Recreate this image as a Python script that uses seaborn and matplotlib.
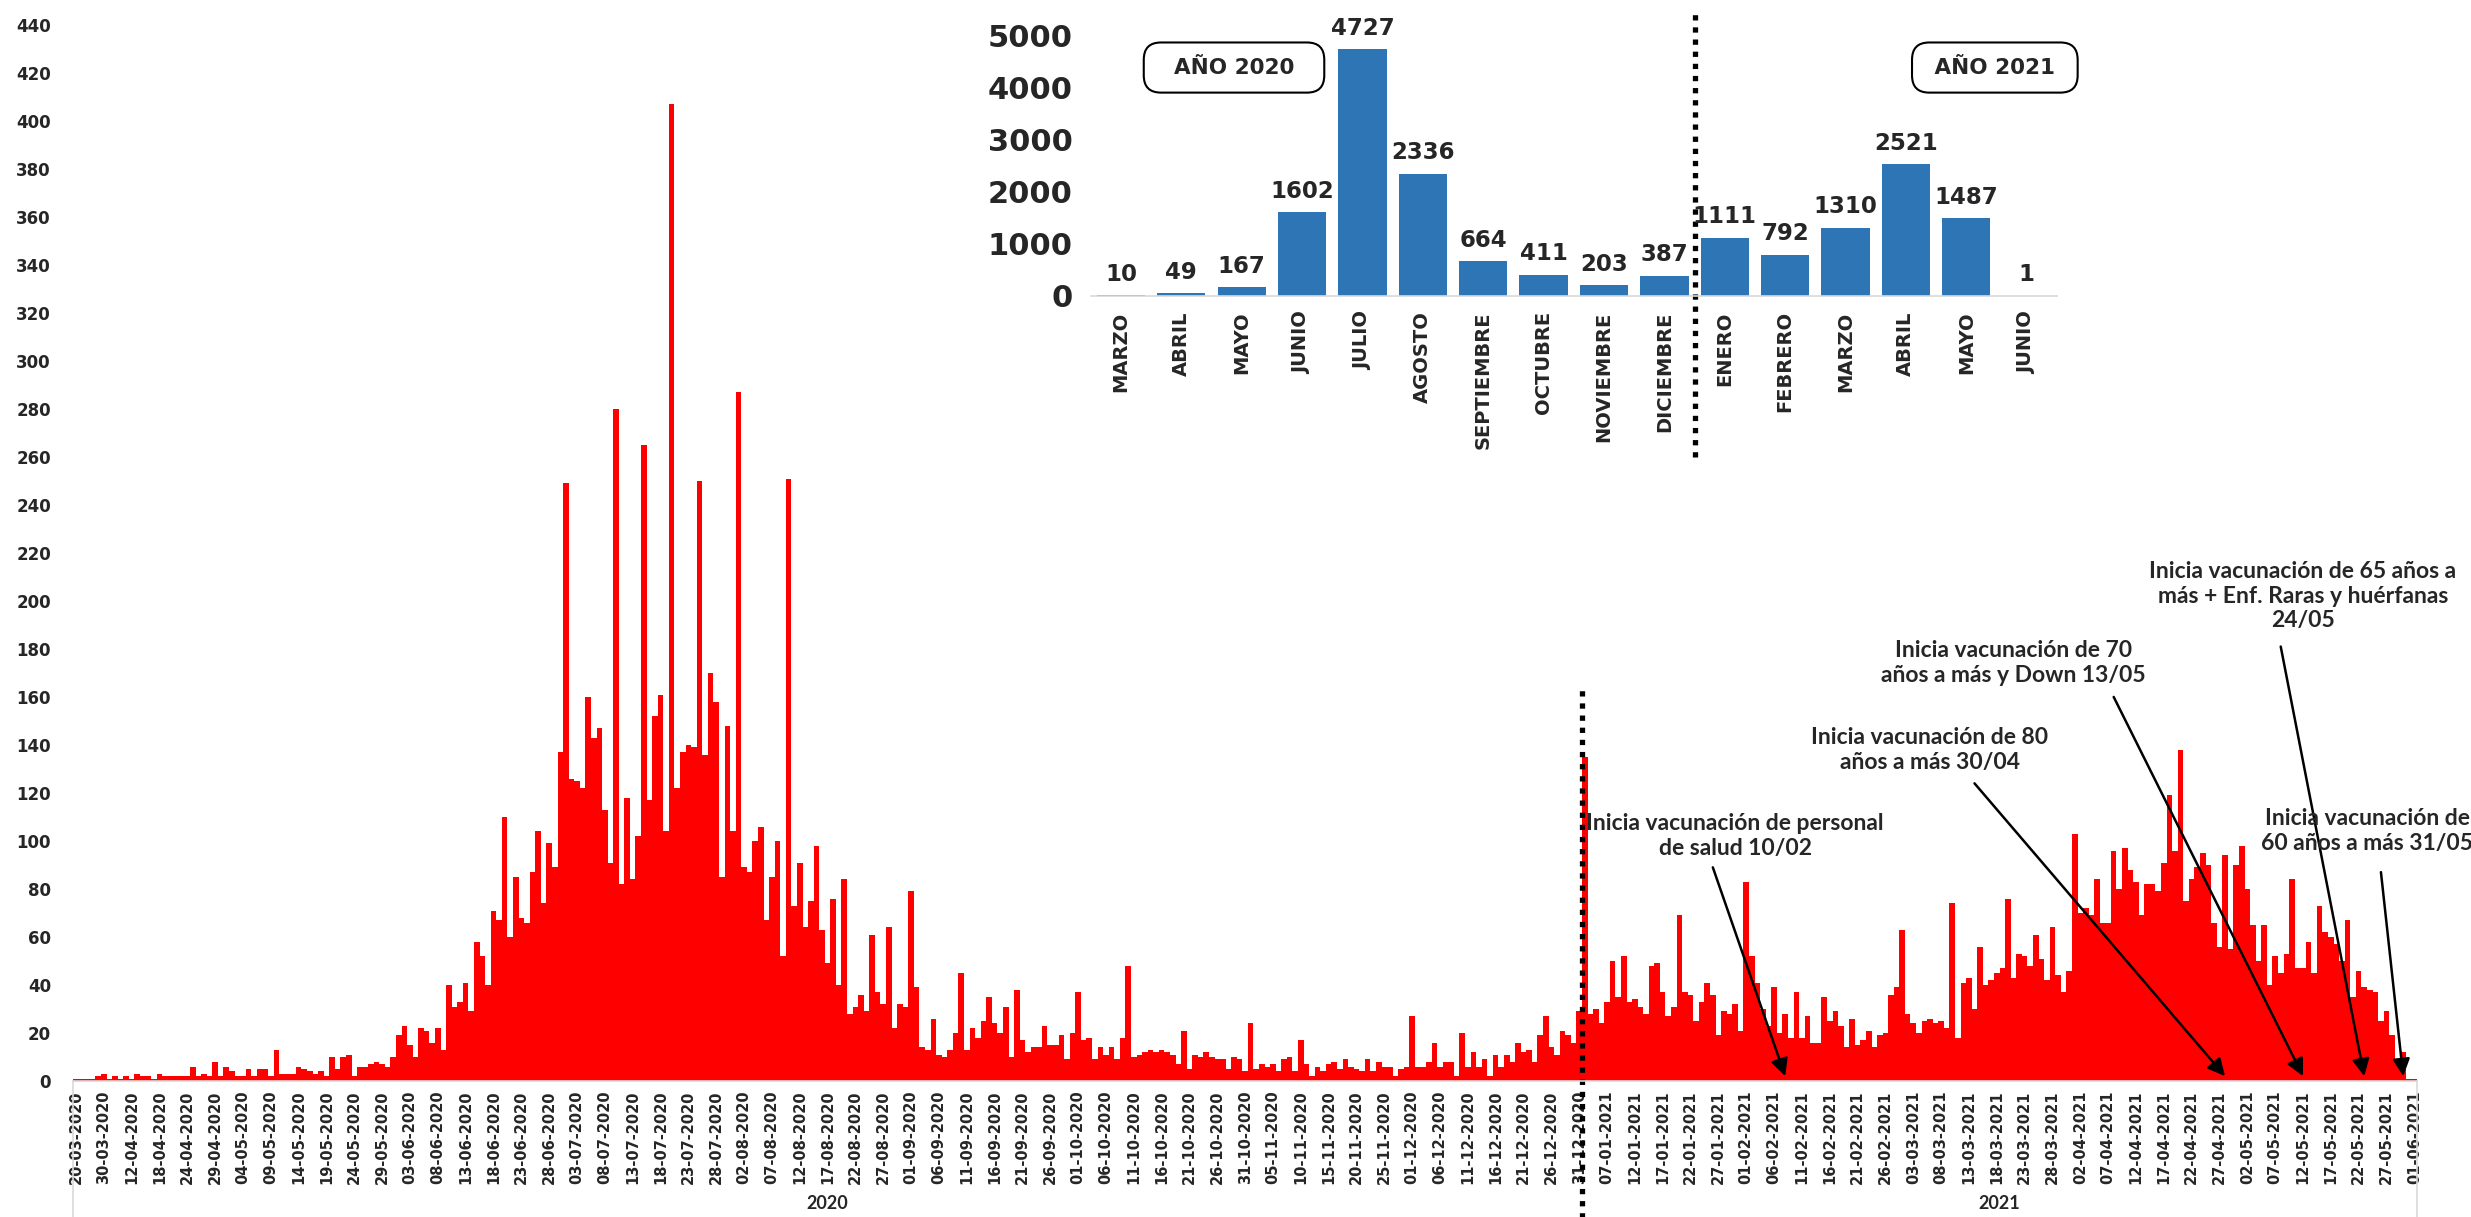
import matplotlib
matplotlib.use('Agg')
import matplotlib.pyplot as plt
from matplotlib import font_manager
from matplotlib.transforms import blended_transform_factory
import numpy as np
import pandas as pd
import seaborn as sns

sns.set_style('white')
plt.rcParams['font.family'] = ['DejaVu Sans']

# casos diarios por mes
mar20 = [1, 1, 1, 1, 2, 3, 1]
abr20 = [2, 1, 2, 1, 3, 2, 2, 1, 3, 2, 2, 2, 2, 2, 6, 2, 3, 2, 8, 2]
may20 = [6, 4, 2, 2, 5, 2, 5, 5, 2, 13, 3, 3, 3, 6, 5, 4, 3, 4, 2, 10, 5, 10, 11, 2, 6, 6, 7, 8, 7, 6, 10]
jun20 = [19, 23, 15, 10, 22, 21, 16, 22, 13, 40, 31, 33, 41, 29, 58, 52, 40, 71, 67, 110, 60, 85, 68, 66, 87,
         104, 74, 99, 89, 137]
jul20 = [249, 126, 125, 122, 160, 143, 147, 113, 91, 280, 82, 118, 84, 102, 265, 117, 152, 161, 104, 407, 122,
         137, 140, 139, 250, 136, 170, 158, 85, 148, 104]
ago20 = [287, 89, 87, 100, 106, 67, 85, 100, 52, 251, 73, 91, 64, 75, 98, 63, 49, 76, 40, 84, 28, 31, 36, 29, 61,
         37, 32, 64, 22, 32, 31]
sep20 = [79, 39, 14, 13, 26, 11, 10, 13, 20, 45, 13, 22, 18, 25, 35, 24, 20, 31, 10, 38, 17, 12, 14, 14, 23, 15,
         15, 19, 9, 20]
oct20 = [37, 17, 18, 9, 14, 11, 14, 9, 18, 48, 10, 11, 12, 13, 12, 13, 12, 11, 7, 21, 5, 11, 10, 12, 10, 9, 9, 5,
         10, 9, 4]
nov20 = [24, 5, 7, 6, 7, 4, 9, 10, 4, 17, 7, 2, 6, 4, 7, 8, 5, 9, 6, 5, 4, 9, 4, 8, 6, 6, 2, 5, 6]
dic20 = [27, 6, 6, 8, 16, 6, 8, 8, 2, 20, 6, 12, 6, 9, 2, 11, 6, 11, 8, 16, 12, 13, 8, 19, 27, 14, 11, 21, 19, 16, 29]
ene21 = [135, 28, 30, 24, 33, 50, 35, 52, 33, 34, 31, 28, 48, 49, 37, 27, 31, 69, 37, 36, 25, 33, 41, 36, 19, 29,
         28, 32, 21]
feb21 = [83, 52, 41, 30, 23, 39, 20, 28, 18, 37, 18, 27, 16, 16, 35, 25, 29, 23, 14, 26, 15, 17, 21, 14, 19, 20,
         36, 39]
mar21 = [63, 28, 24, 20, 25, 26, 24, 25, 22, 74, 18, 41, 43, 30, 56, 40, 42, 45, 47, 76, 43, 53, 52, 48, 61, 51,
         42, 64, 44, 37, 46]
abr21 = [103, 70, 72, 69, 84, 66, 66, 96, 80, 97, 88, 83, 69, 82, 82, 79, 91, 119, 96, 138, 75, 84, 89, 95, 90, 66,
         56, 94, 55, 90]
may21 = [98, 80, 65, 50, 65, 40, 52, 45, 53, 84, 47, 47, 58, 45, 73, 62, 60, 57, 50, 67, 35, 46, 39, 38, 37, 25,
         29, 19, 9, 12, 1]
jun21 = [1]

fechas = ['20-03-2020', '30-03-2020', '12-04-2020', '18-04-2020', '24-04-2020', '29-04-2020', '04-05-2020',
          '09-05-2020', '14-05-2020', '19-05-2020', '24-05-2020', '29-05-2020', '03-06-2020', '08-06-2020',
          '13-06-2020', '18-06-2020', '23-06-2020', '28-06-2020', '03-07-2020', '08-07-2020', '13-07-2020',
          '18-07-2020', '23-07-2020', '28-07-2020', '02-08-2020', '07-08-2020', '12-08-2020', '17-08-2020',
          '22-08-2020', '27-08-2020', '01-09-2020', '06-09-2020', '11-09-2020', '16-09-2020', '21-09-2020',
          '26-09-2020', '01-10-2020', '06-10-2020', '11-10-2020', '16-10-2020', '21-10-2020', '26-10-2020',
          '31-10-2020', '05-11-2020', '10-11-2020', '15-11-2020', '20-11-2020', '25-11-2020', '01-12-2020',
          '06-12-2020', '11-12-2020', '16-12-2020', '21-12-2020', '26-12-2020', '31-12-2020', '07-01-2021',
          '12-01-2021', '17-01-2021', '22-01-2021', '27-01-2021', '01-02-2021', '06-02-2021', '11-02-2021',
          '16-02-2021', '21-02-2021', '26-02-2021', '03-03-2021', '08-03-2021', '13-03-2021', '18-03-2021',
          '23-03-2021', '28-03-2021', '02-04-2021', '07-04-2021', '12-04-2021', '17-04-2021', '22-04-2021',
          '27-04-2021', '02-05-2021', '07-05-2021', '12-05-2021', '17-05-2021', '22-05-2021', '27-05-2021',
          '01-06-2021']

# totales mensuales (grafico insertado)
meses = ['MARZO', 'ABRIL', 'MAYO', 'JUNIO', 'JULIO', 'AGOSTO', 'SEPTIEMBRE', 'OCTUBRE', 'NOVIEMBRE',
         'DICIEMBRE', 'ENERO', 'FEBRERO', 'MARZO', 'ABRIL', 'MAYO', 'JUNIO']
totales = [10, 49, 167, 1602, 4727, 2336, 664, 411, 203, 387, 1111, 792, 1310, 2521, 1487, 1]

casos = (mar20 + abr20 + may20 + jun20 + jul20 + ago20 + sep20 + oct20 + nov20 + dic20
         + ene21 + feb21 + mar21 + abr21 + may21 + jun21)

names = {f.name for f in font_manager.fontManager.ttflist}
narrow = 'Liberation Sans Narrow' if 'Liberation Sans Narrow' in names else 'DejaVu Sans'
narrow_size = 19 if narrow == 'Liberation Sans Narrow' else 14
calibri = 'Lato' if 'Lato' in names else 'DejaVu Sans'

fig = plt.figure(figsize=(24.71, 12.17), dpi=100)

# grafico principal
ax = fig.add_axes([0.0296, 0.1118, 0.9486, 0.8677])
df = pd.DataFrame({'dia': np.arange(len(casos)), 'casos': casos})
sns.barplot(data=df, x='dia', y='casos', color='#ff0000', saturation=1, width=1.0,
            linewidth=0, errorbar=None, ax=ax)
ax.set_xlim(-0.5, len(casos) - 0.5)
ax.set_ylim(0, 440)
ax.set_yticks(range(0, 441, 20))
ax.set_yticklabels([str(v) for v in range(0, 441, 20)], fontsize=12, fontweight='bold')
ax.set_xticks(range(0, len(casos), 5))
ax.set_xticklabels(fechas, rotation=90, fontsize=10.5, fontweight='bold')
ax.tick_params(axis='both', length=0)
ax.tick_params(axis='y', pad=16)
ax.tick_params(axis='x', pad=7)
ax.set_xlabel('')
ax.set_ylabel('')
for s in ['top', 'right', 'left']:
    ax.spines[s].set_visible(False)
ax.spines['bottom'].set_color('#d9d9d9')
ax.spines['bottom'].set_linewidth(1.2)

trans = blended_transform_factory(ax.transData, ax.transAxes)
for xs in (-0.5, len(casos) - 0.5):
    ax.plot([xs, xs], [0, -0.13], transform=trans, color='#d9d9d9', lw=1.2, clip_on=False)
ax.text(135, -0.1165, '2020', transform=trans, ha='center', va='center', fontsize=13,
        fontweight='bold', family=calibri)
ax.text(345.5, -0.1165, '2021', transform=trans, ha='center', va='center', fontsize=13,
        fontweight='bold', family=calibri)
ax.plot([270.5, 270.5], [-0.13, 0.37], transform=trans, color='black', lw=3.8,
        linestyle=(0, (1, 1.3)), dash_capstyle='butt', clip_on=False)

notas = [
    ('Inicia vacunación de personal\nde salud 10/02', (298, 102), (294, 89), (307, 2)),
    ('Inicia vacunación de 80\naños a más 30/04', (333, 138), (341, 124), (386, 2)),
    ('Inicia vacunación de 70\naños a más y Down 13/05', (348, 174), (366, 160), (400, 2)),
    ('Inicia vacunación de 65 años a\nmás + Enf. Raras y huérfanas\n24/05', (400, 202), (396, 181), (411, 2)),
    ('Inicia vacunación de\n60 años a más 31/05', (411.5, 104), (414, 87), (418, 2)),
]
for texto, pos, ini, fin in notas:
    ax.text(pos[0], pos[1], texto, ha='center', va='center', fontsize=16.5, fontweight='bold',
            family=calibri, linespacing=1.22)
    ax.annotate('', xy=fin, xytext=ini,
                arrowprops=dict(arrowstyle='-|>', color='black', lw=1.8, mutation_scale=26,
                                shrinkA=0, shrinkB=0))

# grafico insertado
ax2 = fig.add_axes([0.4414, 0.7568, 0.391, 0.2144])
ax2.set_facecolor('none')
df2 = pd.DataFrame({'pos': np.arange(len(totales)), 'total': totales})
sns.barplot(data=df2, x='pos', y='total', color='#2e75b6', saturation=1, width=0.8,
            linewidth=0, errorbar=None, ax=ax2)
ax2.set_xlim(-0.5, len(totales) - 0.5)
ax2.set_ylim(0, 5000)
ax2.set_yticks(range(0, 5001, 1000))
ax2.set_yticklabels([str(v) for v in range(0, 5001, 1000)], fontsize=22, fontweight='bold')
ax2.set_xticks(range(len(totales)))
ax2.set_xticklabels(meses, rotation=90, fontsize=narrow_size, fontweight='bold', family=narrow)
ax2.tick_params(axis='both', length=0)
ax2.tick_params(axis='y', pad=13)
ax2.tick_params(axis='x', pad=11)
ax2.set_xlabel('')
ax2.set_ylabel('')
for s in ['top', 'right', 'left']:
    ax2.spines[s].set_visible(False)
ax2.spines['bottom'].set_color('#d9d9d9')
ax2.spines['bottom'].set_linewidth(1.2)
for i, v in enumerate(totales):
    ax2.annotate(str(v), (i, v), xytext=(0, 7), textcoords='offset points', ha='center',
                 va='bottom', fontsize=16.5, fontweight='bold', annotation_clip=False)

trans2 = blended_transform_factory(ax2.transData, ax2.transAxes)
ax2.plot([9.5, 9.5], [-0.617, 1.103], transform=trans2, color='black', lw=3.8,
         linestyle=(0, (1, 1.3)), dash_capstyle='butt', clip_on=False)

for xc, txt in [(0.4994, '  AÑO 2020  '), (0.8073, ' AÑO 2021 ')]:
    fig.text(xc, 0.9445, txt, ha='center', va='center', fontsize=15.5, fontweight='bold',
             bbox=dict(boxstyle='round,pad=0.7,rounding_size=0.8', fc='white', ec='black', lw=1.5))

fig.savefig('out.png', dpi=100)
